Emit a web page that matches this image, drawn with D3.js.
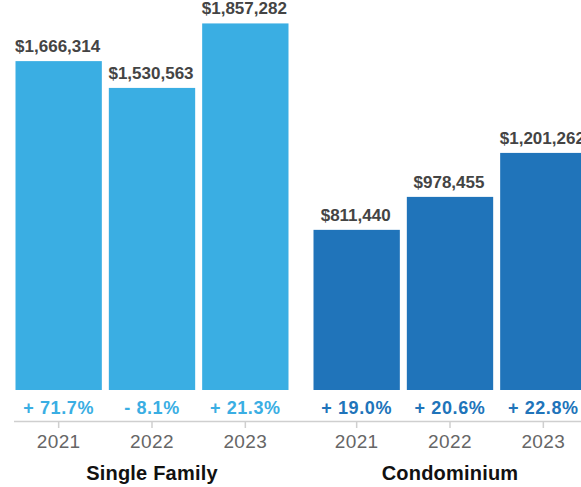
<!DOCTYPE html>
<html>
<head>
<meta charset="utf-8">
<script src="https://cdn.jsdelivr.net/npm/d3@7"></script>
<style>
  html, body { margin: 0; padding: 0; background: #fff; }
  svg { display: block; }
  text { font-family: "Liberation Sans", Arial, Helvetica, sans-serif; }
</style>
</head>
<body>
<svg id="chart" width="581" height="487"></svg>
<script>
// Median sale price by property type and year
const groups = ["Single Family", "Condominium"];
const years = ["2021", "2022", "2023"];
const singleFamily = [1666314, 1530563, 1857282];
const condominium = [811440, 978455, 1201262];
const singleFamilyChange = [71.7, -8.1, 21.3];
const condominiumChange = [19.0, 20.6, 22.8];
const groupColors = ["#3aaee3", "#2074ba"];

const series = [
  { name: groups[0], values: singleFamily, change: singleFamilyChange, color: groupColors[0] },
  { name: groups[1], values: condominium, change: condominiumChange, color: groupColors[1] }
];

const width = 581, height = 487;
const baseY = 390, axisY = 421;

const svg = d3.select("#chart");

const x0 = d3.scaleBand().domain(groups).range([12, 590]).paddingInner(0.0604).paddingOuter(0);
const x1 = d3.scaleBand().domain(years).range([0, x0.bandwidth()]).paddingInner(0.075).paddingOuter(0.0375);
const y = d3.scaleLinear().domain([0, 1900000]).range([baseY, 15]);

const money = v => "$" + d3.format(",")(v);
const pct = v => (v < 0 ? "- " : "+ ") + Math.abs(v).toFixed(1) + "%";

// baseline axis
svg.append("line")
  .attr("x1", 14).attr("x2", width)
  .attr("y1", axisY + 0.5).attr("y2", axisY + 0.5)
  .attr("stroke", "#cfcfcf").attr("stroke-width", 1.5);

const g = svg.selectAll("g.group").data(series).join("g")
  .attr("class", "group")
  .attr("transform", d => `translate(${x0(d.name)},0)`);

g.each(function (s) {
  const sel = d3.select(this);
  const rows = years.map((yr, i) => ({ year: yr, value: s.values[i], change: s.change[i] }));
  const cx = d => x1(d.year) + x1.bandwidth() / 2;

  sel.selectAll("rect").data(rows).join("rect")
    .attr("x", d => x1(d.year))
    .attr("width", x1.bandwidth())
    .attr("y", d => y(d.value))
    .attr("height", d => baseY - y(d.value))
    .attr("fill", s.color);

  sel.selectAll("text.value").data(rows).join("text")
    .attr("class", "value")
    .attr("x", d => cx(d) - 1)
    .attr("y", d => y(d.value) - 9)
    .attr("text-anchor", "middle")
    .attr("font-size", 17).attr("font-weight", "bold")
    .attr("fill", "#444")
    .text(d => money(d.value));

  sel.selectAll("text.change").data(rows).join("text")
    .attr("class", "change")
    .attr("x", d => cx(d))
    .attr("y", 414)
    .attr("text-anchor", "middle")
    .attr("font-size", 18).attr("font-weight", "bold")
    .attr("letter-spacing", 0.6)
    .attr("fill", s.color)
    .text(d => pct(d.change));

  sel.selectAll("line.tick").data(rows).join("line")
    .attr("class", "tick")
    .attr("x1", d => cx(d))
    .attr("x2", d => cx(d))
    .attr("y1", axisY).attr("y2", axisY + 7)
    .attr("stroke", "#cfcfcf").attr("stroke-width", 1.5);

  sel.selectAll("text.year").data(rows).join("text")
    .attr("class", "year")
    .attr("x", d => cx(d))
    .attr("y", 448)
    .attr("text-anchor", "middle")
    .attr("font-size", 19)
    .attr("letter-spacing", 0.4)
    .attr("fill", "#666")
    .text(d => d.year);

  sel.append("text")
    .attr("x", x0.bandwidth() / 2)
    .attr("y", 480)
    .attr("text-anchor", "middle")
    .attr("font-size", 20).attr("font-weight", "bold")
    .attr("letter-spacing", 0.2)
    .attr("fill", "#111")
    .text(s.name);
});
</script>
</body>
</html>
